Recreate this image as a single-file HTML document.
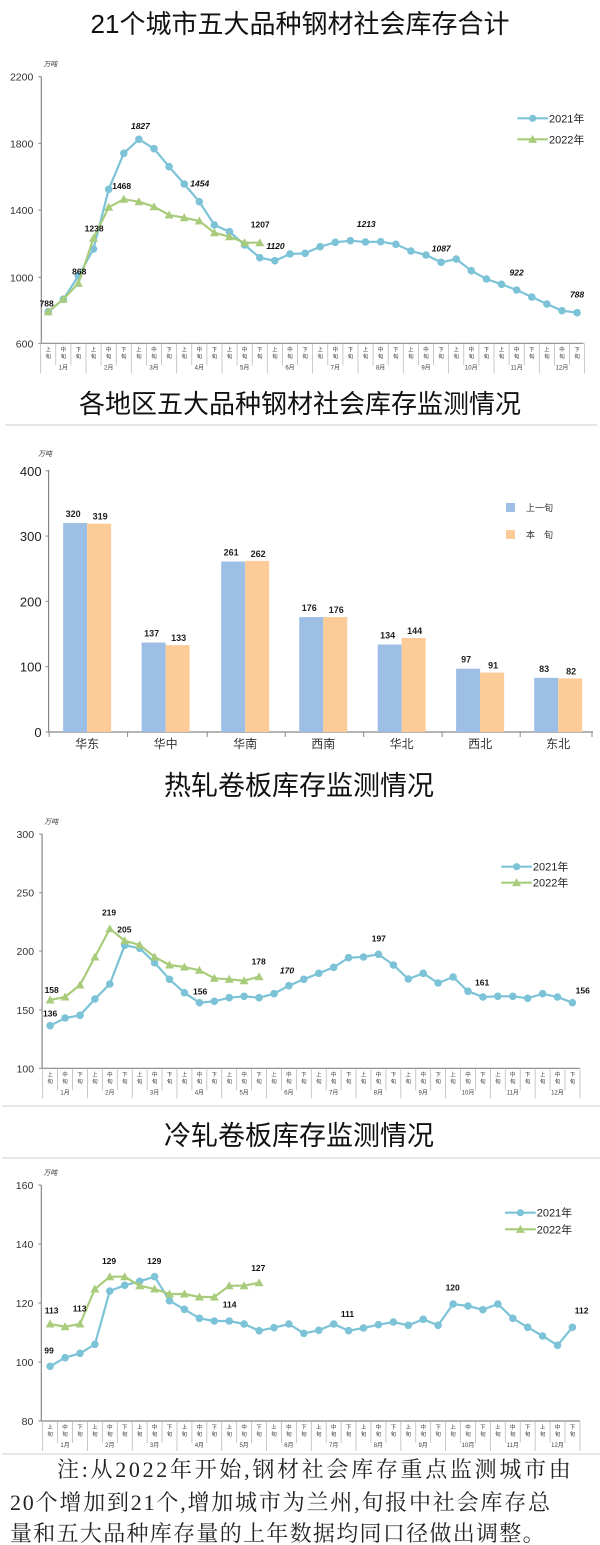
<!DOCTYPE html>
<html><head><meta charset="utf-8">
<style>
body{margin:0;background:#fff;}
#c{position:relative;width:600px;height:1545px;overflow:hidden;background:#fff;}
svg{position:absolute;left:0;top:0;}
.note{position:absolute;font-family:"Liberation Serif","Noto Serif CJK SC",serif;font-size:22px;line-height:26px;color:#222;white-space:nowrap;}
</style></head><body>
<div id="c">
<svg id="s" width="600" height="1545" xmlns="http://www.w3.org/2000/svg" font-family="Liberation Sans, Noto Sans CJK SC, sans-serif">
<text x="300" y="33" font-size="26" text-anchor="middle" fill="#111">21个城市五大品种钢材社会库存合计</text>
<text x="300" y="413" font-size="26" text-anchor="middle" fill="#111">各地区五大品种钢材社会库存监测情况</text>
<line x1="5" y1="425" x2="597" y2="425" stroke="#ddd" stroke-width="1.5"/>
<text x="299" y="795" font-size="27" text-anchor="middle" fill="#111">热轧卷板库存监测情况</text>
<text x="299" y="1145" font-size="27" text-anchor="middle" fill="#111">冷轧卷板库存监测情况</text>
<line x1="2" y1="1158" x2="600" y2="1158" stroke="#ddd" stroke-width="1.5"/>
<line x1="2" y1="1106" x2="600" y2="1106" stroke="#ddd" stroke-width="1.5"/>
<line x1="2" y1="1454" x2="600" y2="1454" stroke="#ddd" stroke-width="1.5"/>
<g id="g"></g>
</svg>
<div class="note" style="left:57px;top:1457px;letter-spacing:2.7px;">注:从2022年开始,钢材社会库存重点监测城市由</div>
<div class="note" style="left:10px;top:1490px;letter-spacing:1.8px;">20个增加到21个,增加城市为兰州,旬报中社会库存总</div>
<div class="note" style="left:10px;top:1521px;letter-spacing:1.3px;">量和五大品种库存量的上年数据均同口径做出调整。</div>
</div>
<script>
var g=document.getElementById('g'),h='';
var C1='#7cc3d7',C2='#a9cc7c',SX=600/1568;
function T(x,y,t,o){o=o||{};h+='<text x="'+x+'" y="'+y+'" font-size="'+(o.s||9)+'" fill="'+(o.c||'#222')+'"'+(o.a?' text-anchor="'+o.a+'"':'')+(o.b?' font-weight="bold"':'')+(o.i?' font-style="italic"':'')+'>'+t+'</text>';}
function L(x1,y1,x2,y2,c,w){h+='<line x1="'+x1+'" y1="'+y1+'" x2="'+x2+'" y2="'+y2+'" stroke="'+c+'" stroke-width="'+(w||1)+'"/>';}
function chart(cf){
 var off=cf.off, P=function(zx,zy){return [zx*SX, off+zy/3];};
 var ax=cf.ax*SX, top=off+cf.top/3, bot=off+cf.bot/3, right=cf.right*SX;
 L(ax,top,ax,bot,'#888',1.2);L(ax,bot,right,bot,'#888',1.2);
 cf.ticks.forEach(function(t){var y=off+t[0]/3;T(ax-8,y+4,t[1],{s:10.5,a:'end',c:'#333'});L(ax-3,y,ax,y,'#888');});
 T(ax+2,top-10,'万吨',{s:7,c:'#333',i:1});
 var st=cf.step*SX;
 for(var i=0;i<=36;i++){var x=cf.x0*SX+(i-0.5)*st;var lg=(i%3==0);L(x,bot,x,bot+(lg?30:22),'#bbb',0.8);}
 for(var i=0;i<36;i++){var x=cf.x0*SX+i*st;var lb=['上','中','下'][i%3];
  T(x,bot+8,lb,{s:5.5,a:'middle',c:'#333'});T(x,bot+15,'旬',{s:5.5,a:'middle',c:'#333'});}
 for(var m=0;m<12;m++){var x=cf.x0*SX+(m*3+1)*st;T(x,bot+26,(m+1)+'月',{s:6,a:'middle',c:'#444'});}
 function line(d,c,tri){var pts=d.map(function(v,i){var p=P(cf.x0+i*cf.step,v);return p[0].toFixed(1)+','+p[1].toFixed(1);});
  h+='<polyline points="'+pts.join(' ')+'" fill="none" stroke="'+c+'" stroke-width="2.2"/>';
  pts.forEach(function(p){var a=p.split(',').map(Number);
   if(tri)h+='<polygon points="'+a[0]+','+(a[1]-4.5)+' '+(a[0]-4.5)+','+(a[1]+3.5)+' '+(a[0]+4.5)+','+(a[1]+3.5)+'" fill="'+c+'"/>';
   else h+='<circle cx="'+a[0]+'" cy="'+a[1]+'" r="3.8" fill="'+c+'"/>';});}
 line(cf.d1,C1,0);line(cf.d2,C2,1);
 cf.lab.forEach(function(l){var p=P(l[1],l[2]);T(p[0],p[1]+3,l[0],{s:8.5,a:'middle',b:1,i:l[3],c:'#111'});});
 var lg=cf.leg;
 [[C1,0,'2021年'],[C2,1,'2022年']].forEach(function(e,k){var y=off+lg[1+k]/3,x1=lg[0]*SX,x2=(lg[0]+80)*SX;
  L(x1,y,x2,y,e[0],2.2);var cx=(x1+x2)/2;
  if(e[1])h+='<polygon points="'+cx+','+(y-4.5)+' '+(cx-4.5)+','+(y+3.5)+' '+(cx+4.5)+','+(y+3.5)+'" fill="'+e[0]+'"/>';
  else h+='<circle cx="'+cx+'" cy="'+y+'" r="3.6" fill="'+e[0]+'"/>';
  T(x2+1,y+4,e[2],{s:11,c:'#222'});});
}
chart({off:50,ax:108,top:80,bot:880,right:1525,x0:126,step:39.49,
 ticks:[[80,'2200'],[280,'1800'],[480,'1400'],[682,'1000'],[880,'600']],
 d1:[785,748,678,597,418,310,268,296,350,402,455,525,545,585,623,632,612,610,590,577,572,576,575,583,603,615,637,627,662,687,703,720,741,762,782,788],
 d2:[785,748,700,565,472,448,455,470,495,503,513,548,560,578,578],
 lab:[['788',122,760],['868',207,664],['1238',246,535],['1468',318,408],['1827',367,228,1],['1454',522,400,1],['1207',680,524],['1120',720,588,1],['1213',957,522,1],['1087',1153,595,1],['922',1350,668,1],['788',1508,733,1]],
 leg:[1352,205,268]});
chart({off:820,ax:110,top:42,bot:745,right:1515,x0:131,step:39,
 ticks:[[42,'300'],[218,'250'],[393,'200'],[570,'150'],[745,'100']],
 d1:[617,594,586,537,492,376,385,428,478,518,548,544,533,529,533,521,497,478,460,442,413,411,403,435,477,460,489,471,514,531,529,529,535,521,531,548],
 d2:[540,531,495,411,326,362,375,411,435,441,451,475,478,482,470],
 lab:[['158',135,510],['136',131,580],['219',285,278],['205',325,328],['156',523,515],['178',676,425],['170',750,452,1],['197',990,355],['161',1260,487],['156',1523,512]],
 leg:[1310,140,188]});
chart({off:1140,ax:108,top:135,bot:843,right:1515,x0:131,step:39,
 ticks:[[135,'160'],[312,'140'],[489,'120'],[666,'100'],[843,'80']],
 d1:[679,653,640,613,453,436,424,410,482,508,535,543,543,552,572,563,552,580,571,552,572,564,554,546,556,538,556,492,498,509,492,535,562,588,616,562],
 d2:[552,560,552,447,410,410,437,447,462,462,471,471,437,437,428],
 lab:[['113',135,512],['99',128,632],['113',208,505],['129',285,363],['129',403,363],['127',675,384],['114',600,493],['111',908,522],['120',1183,443],['112',1520,512]],
 leg:[1320,218,268]});
(function(){var ax=48.6,y0=732,k=0.653;
 L(ax,470,ax,y0,'#888',1.2);L(ax,y0,593,y0,'#888',1.2);
 [[0,'0'],[100,'100'],[200,'200'],[300,'300'],[400,'400']].forEach(function(t){var y=y0-t[0]*k;T(ax-7,y+5,t[1],{s:13,a:'end',c:'#222'});L(ax-3,y,ax,y,'#888');});
 T(38,456,'万吨',{s:7,c:'#333',i:1});
 var d=[['华东',320,319],['华中',137,133],['华南',261,262],['西南',176,176],['华北',134,144],['西北',97,91],['东北',83,82]];
 var xs=[165,370,578,782,987,1192,1396];
 d.forEach(function(e,i){var x=xs[i]*SX;
  h+='<rect x="'+x+'" y="'+(y0-e[1]*k)+'" width="24" height="'+(e[1]*k)+'" fill="#9ebfe5"/>';
  h+='<rect x="'+(x+24)+'" y="'+(y0-e[2]*k)+'" width="24" height="'+(e[2]*k)+'" fill="#fdcb97"/>';
  T(x+10,y0-e[1]*k-6,e[1],{s:9,a:'middle',b:1,c:'#222'});T(x+37,y0-e[2]*k-4,e[2],{s:9,a:'middle',b:1,c:'#222'});
  T(x+24,748,e[0],{s:12,a:'middle',c:'#333'});
  L(x-14,y0,x-14,y0+5,'#888');});
 L(592,y0,592,y0+5,'#888');
 h+='<rect x="506" y="503" width="9" height="9" fill="#9ebfe5"/><rect x="506" y="530" width="9" height="9" fill="#fdcb97"/>';
 T(526,511,'上一旬',{s:9,c:'#333'});T(526,538,'本　旬',{s:9,c:'#333'});
})();
g.innerHTML=h;
</script>
</body></html>
